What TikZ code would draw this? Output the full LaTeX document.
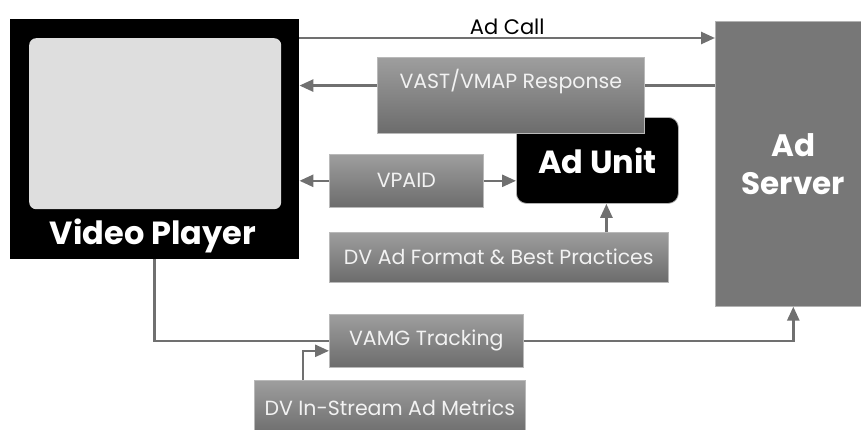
\documentclass[tikz,border=0pt]{standalone}
\usepackage{fontspec}
\setmainfont{Poppins}
\usetikzlibrary{calc}
\usetikzlibrary{arrows.meta}

\definecolor{boxtop}{HTML}{9E9E9E}
\definecolor{boxbot}{HTML}{6C6C6C}
\definecolor{linegray}{HTML}{707070}
\definecolor{servergray}{HTML}{777777}
\definecolor{screengray}{HTML}{DEDEDE}

\tikzset{
	box/.style={rectangle, anchor=north west, inner sep=0pt, top color=boxtop, bottom color=boxbot,
		draw=gray!55, line width=0.6pt, text=white!95!black, font=\fontsize{20.5}{24}\selectfont},
	link/.style={draw=linegray, line width=2.6pt},
	flow/.style={link, -{Triangle[length=14pt,width=12pt]}},
}

\begin{document}
\begin{tikzpicture}[x=1pt,y=-1pt]
	\useasboundingbox (0,0) rectangle (861,429);

	% video player
	\node[anchor=north west, fill=black, minimum width=289pt, minimum height=240pt, inner sep=0pt] (player) at (10,19) {};
	\node[anchor=north west, fill=screengray, rounded corners=7pt, minimum width=252pt, minimum height=171pt, inner sep=0pt] (screen) at (29,38) {};
	\node[text=white, font=\fontsize{32}{35}\selectfont\bfseries] (playerlabel) at (153,236) {Video Player};

	% ad server
	\node[anchor=north west, fill=servergray, draw=gray!60, line width=0.6pt, minimum width=156pt, minimum height=285pt,
		inner sep=0pt, align=center, text=white, font=\fontsize{31}{38}\selectfont\bfseries] (server) at (715,21) {Ad\\Server};

	% ad unit
	\node[anchor=north west, fill=black, draw=gray!60, line width=0.8pt, rounded corners=10pt, minimum width=162pt, minimum height=86pt,
		inner sep=0pt, text=white, font=\fontsize{32}{35}\selectfont\bfseries] (adunit) at (516,117) {Ad Unit};

	% grey boxes
	\node[box, minimum width=267pt, text height=31pt, text depth=45pt] (vast) at (377,57) {VAST/VMAP Response};
	\node[box, minimum width=154pt, minimum height=53pt] (vpaid) at (329,154) {VPAID};
	\node[box, minimum width=339pt, minimum height=50pt] (format) at (329,232) {DV Ad Format \& Best Practices};
	\node[box, minimum width=194pt, minimum height=53pt] (tracking) at (329,314) {VAMG Tracking};
	\node[box, minimum width=271pt, minimum height=55pt] (metrics) at (254,380) {DV In-Stream Ad Metrics};

	% calls and responses
	\draw[flow] (player.east |- 0,38) -- (server.west |- 0,38)
	node[midway, above, yshift=-1pt, text=black, font=\fontsize{21}{24}\selectfont] (calllabel) {Ad Call};
	\draw[link] (server.west |- vast.mid) -- (vast.mid east);
	\draw[flow] (vast.mid west) -- (player.east |- vast.mid);
	\draw[flow] (vpaid.west) -- (player.east |- vpaid.west);
	\draw[flow] (vpaid.east) -- (adunit.west |- vpaid.east);
	\draw[flow] ([xshift=9pt]adunit.south |- format.north) -- ([xshift=9pt]adunit.south);

	% tracking
	\draw[link] (player.south) |- (tracking.west);
	\draw[flow] (tracking.east) -| (server.south);
	\draw[flow] ([xshift=49pt]metrics.north west) |- ([yshift=-10pt]tracking.west);

\end{tikzpicture}
\end{document}
